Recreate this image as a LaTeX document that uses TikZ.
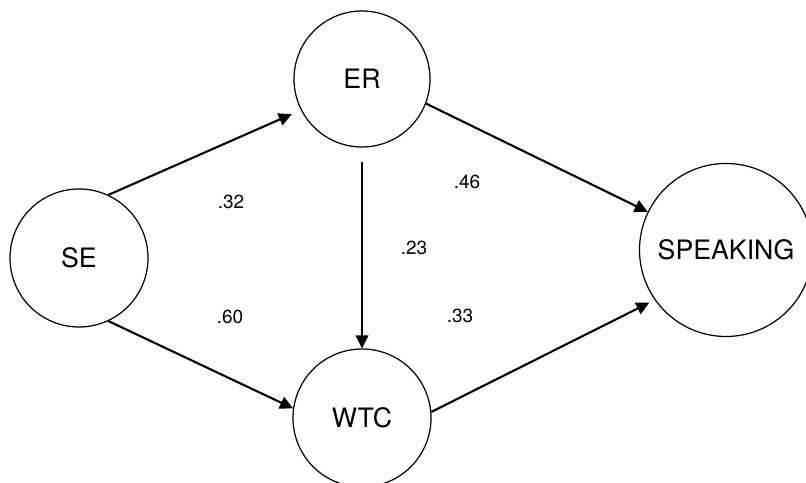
\documentclass[tikz,border=0pt]{standalone}
\usepackage{fontspec}
\setmainfont{TeX Gyre Heros}
\usepackage{tikz}
\usetikzlibrary{arrows.meta}

\begin{document}
\begin{tikzpicture}[
        var/.style={draw, circle, line width=0.35pt, inner sep=0pt, minimum size=1.38cm,
            font=\fontsize{7.6}{9}\selectfont},
        link/.style={-{Triangle[length=3.7pt,width=3.6pt]}, line width=0.6pt},
        coef/.style={font=\fontsize{5.4}{6}\selectfont}
    ]
                \useasboundingbox (0,0) rectangle (8.06,4.83);

                \node[var] (se) at (0.79,2.25) {SE};
                \node[var, minimum size=1.36cm] (er) at (3.62,4.04) {ER};
                \node[var] (wtc) at (3.62,0.65) {WTC};
                \node[var, minimum size=1.73cm] (spk) at (7.26,2.33) {SPEAKING};

                \draw[link, shorten >=0.1cm] (se.65) -- (er.207);
                \draw[link] (se.295) -- (wtc.172);
                \draw[link, shorten <=0.14cm] (er.south) -- (wtc.north);
                \draw[link] (er.339) -- (spk.154);
                \draw[link, shorten >=0.06cm] (wtc.5) -- (spk.215);

                \node[coef] (c32) at (2.31,2.81) {.32};
                \node[coef] (c60) at (2.30,1.66) {.60};
                \node[coef] (c23) at (4.14,2.35) {.23};
                \node[coef] (c46) at (4.67,3.01) {.46};
                \node[coef] (c33) at (4.60,1.67) {.33};
            \end{tikzpicture}
\end{document}
